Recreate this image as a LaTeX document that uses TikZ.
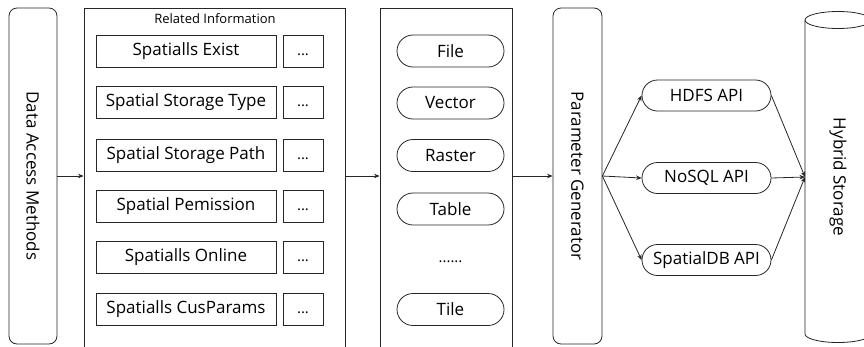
\documentclass[tikz,border=0pt]{standalone}
\usepackage{fontspec}
\setmainfont{Open Sans}
\usetikzlibrary{arrows.meta,shapes.misc}

\tikzset{
  big/.style={font=\fontsize{17}{20}\selectfont},
  panel/.style={draw, rectangle, inner sep=0pt},
  roundpanel/.style={draw, rectangle, rounded corners=8pt, inner sep=0pt},
  infobox/.style={draw, rectangle, big, minimum width=180pt, minimum height=32pt, inner sep=0pt},
  dotbox/.style={draw, rectangle, font=\fontsize{15}{17}\selectfont, text height=11pt, text depth=3pt, minimum width=40pt, minimum height=32pt, inner sep=0pt},
  pill/.style={draw, rounded rectangle, big, minimum width=107pt, minimum height=32pt, inner sep=0pt},
  apipill/.style={draw, rounded rectangle, big, minimum width=129pt, minimum height=31pt, inner sep=0pt},
  vlabel/.style={big, rotate=-90},
  link/.style={-{Stealth[length=5.5pt,width=4.5pt]}},
}

\begin{document}
\begin{tikzpicture}[x=1pt, y=-1pt, line width=0.8pt, draw=black!85]
\useasboundingbox (0,0) rectangle (864,346);
\clip (0,0) rectangle (864,346);

% left column: access methods
\node[roundpanel, minimum width=48pt, minimum height=336pt] (dam) at (33,176) {};
\node[vlabel] (damtext) at (dam.center) {Data Access Methods};

% related information panel
\node[panel, minimum width=261pt, minimum height=344pt] (rel) at (214.5,180) {};
\node[font=\fontsize{13}{15}\selectfont] (reltitle) at (215,19) {Related Information};

\node[infobox] (i1) at (186,51) {Spatialls Exist};
\node[infobox] (i2) at (186,102.5) {Spatial Storage Type};
\node[infobox] (i3) at (186,155) {Spatial Storage Path};
\node[infobox] (i4) at (186,206) {Spatial Pemission};
\node[infobox] (i5) at (186,257) {Spatialls Online};
\node[infobox] (i6) at (186,309.5) {Spatialls CusParams};

\node[dotbox] (d1) at (303,51) {...};
\node[dotbox] (d2) at (303,102.5) {...};
\node[dotbox] (d3) at (303,155) {...};
\node[dotbox] (d4) at (303,206) {...};
\node[dotbox] (d5) at (303,257) {...};
\node[dotbox] (d6) at (303,309.5) {...};

% data types panel
\node[panel, minimum width=132pt, minimum height=344pt] (mid) at (446,180) {};
\node[pill] (file) at (450.5,51) {File};
\node[pill] (vector) at (450.5,103) {Vector};
\node[pill] (raster) at (450.5,155.5) {Raster};
\node[pill] (table) at (450.5,209) {Table};
\node[font=\fontsize{15}{17}\selectfont, text height=11pt, text depth=3pt, inner sep=0pt] (more) at (450.5,258) {......};
\node[pill] (tile) at (450.5,309.5) {Tile};

% parameter generator
\node[roundpanel, minimum width=49pt, minimum height=336pt] (pg) at (577.5,176) {};
\node[vlabel] (pgtext) at (pg.center) {Parameter Generator};

% storage APIs
\node[apipill] (hdfs) at (706.5,95.5) {HDFS API};
\node[apipill] (nosql) at (706.5,178) {NoSQL API};
\node[apipill] (sdb) at (706.5,260) {SpatialDB API};

% hybrid storage cylinder
\draw (805,20) -- (805,334)
      arc[start angle=180, end angle=0, x radius=33, y radius=8.5]
      -- (871,20);
\draw (838,20) ellipse[x radius=33, y radius=8.5];
\coordinate (hs) at (805,177);
\node[vlabel] (hstext) at (838,177) {Hybrid Storage};

% connectors
\draw[link] (dam.east) -- (dam.east -| rel.west);
\draw[link] (rel.east |- dam.east) -- (mid.west |- dam.east);
\draw[link] (mid.east |- dam.east) -- (pg.west);
\draw[link] (pg.east) -- (hdfs.west);
\draw[link] (pg.east) -- (nosql.west);
\draw[link] (pg.east) -- (sdb.west);
\draw[link] (hdfs.east) -- (hs);
\draw[link] (nosql.east) -- (hs);
\draw[link] (sdb.east) -- (hs);
\end{tikzpicture}
\end{document}
